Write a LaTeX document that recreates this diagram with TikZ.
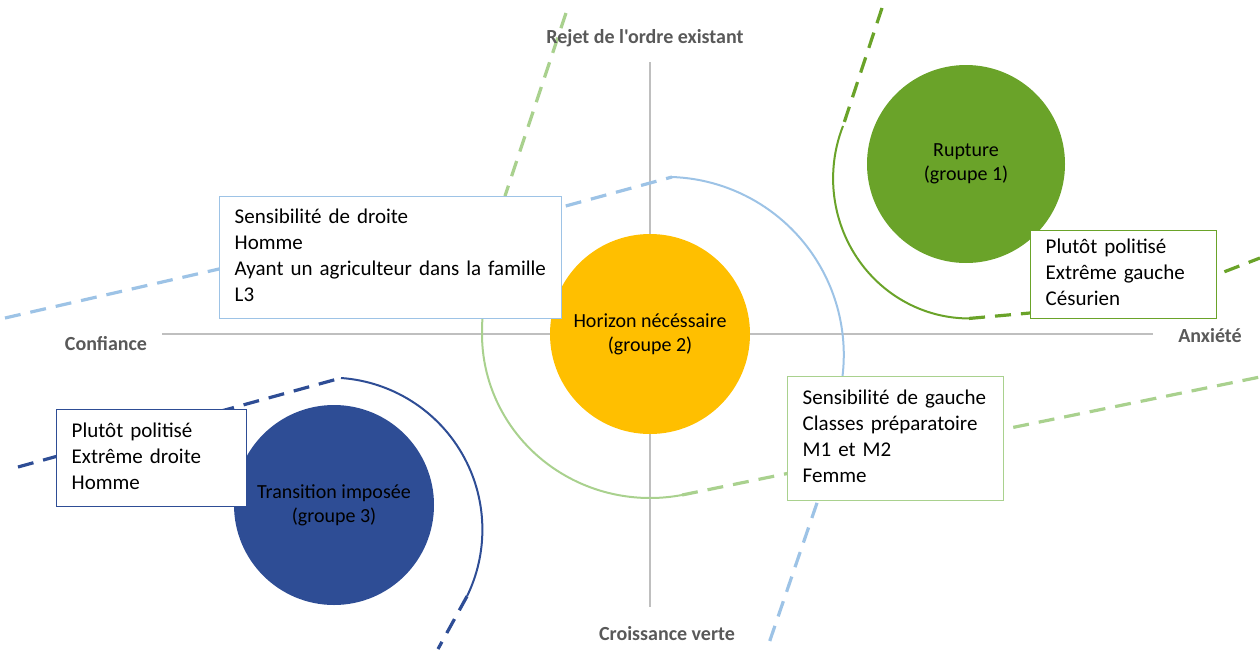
\documentclass[tikz,border=0pt]{standalone}
\usepackage{fontspec}
\setmainfont{Carlito}[Ligatures=TeXOff]
\usepackage{tikz}
\definecolor{axisgray}{HTML}{BFBFBF}
\definecolor{labelgray}{HTML}{595959}
\definecolor{rupturegreen}{HTML}{6AA329}
\definecolor{horizonorange}{HTML}{FFBF00}
\definecolor{transitionblue}{HTML}{2E4D95}
\definecolor{lightgreen}{HTML}{A9D18E}
\definecolor{lightblue}{HTML}{9DC3E6}
\newcommand{\boxfont}{\fontsize{10.5}{13}\selectfont}
\newcommand{\groupfont}{\fontsize{10}{12}\selectfont}
\newcommand{\axisfont}{\fontsize{10}{12}\selectfont\bfseries}
\newcommand{\boxlines}[1]{\begin{tabular}{@{}l@{}}#1\end{tabular}}

\begin{document}
\begin{tikzpicture}[x=0.5pt,y=-0.5pt,
  axis/.style={draw=axisgray, line width=0.6pt},
  axislabel/.style={font=\axisfont, text=labelgray},
  groupdot/.style={circle, inner sep=0pt, minimum size=#1, align=center, font=\groupfont},
  infobox/.style={draw=#1, fill=white, line width=0.7pt, anchor=north west, align=left, inner xsep=7.5pt, inner ysep=0pt, font=\boxfont},
  frontier/.style={line width=1pt},
  dashfrontier/.style={line width=1.6pt, dash pattern=on 8pt off 5pt}]
  \useasboundingbox (0,0) rectangle (1260,649);

  \draw[axis] (650,62) -- (650,607);
  \draw[axis] (162,334) -- (1153,334);

  \draw[lightgreen, dashfrontier] (566,13) -- (505,196);
  \draw[lightgreen, frontier] (505,196) .. controls (490,250) and (482,295) .. (482,334) arc[start angle=180, end angle=79, x radius=168, y radius=164] coordinate (g2end);
  \draw[lightgreen, dashfrontier] (g2end) -- (1260,377);

  \draw[lightblue, dashfrontier] (5,318) -- (219,269) -- (562,207) -- (672,177);
  \draw[lightblue, frontier] (672,177) arc[start angle=-88, end angle=15, radius=178] coordinate (b2end);
  \draw[lightblue, dashfrontier] (b2end) -- (818,500) -- (767,649);

  \draw[rupturegreen, dashfrontier] (882,8) -- (843,126);
  \draw[rupturegreen, frontier] (843,126) arc[start angle=202, end angle=90, x radius=136, y radius=140] coordinate (g1end);
  \draw[rupturegreen, dashfrontier] (g1end) -- (1030,313) -- (1216,275) -- (1260,258);

  \draw[transitionblue, dashfrontier] (18,467) -- (341,378);
  \draw[transitionblue, frontier] (341,378) arc[start angle=-86, end angle=26, radius=152] coordinate (b3end);
  \draw[transitionblue, dashfrontier] (b3end) -- (438,649);

  \node[groupdot=99pt, fill=rupturegreen] (rupture) at (966,164) {Rupture\\(groupe 1)};
  \node[groupdot=100pt, fill=horizonorange] (horizon) at (650,334) {Horizon nécéssaire\\(groupe 2)};
  \node[groupdot=100pt, fill=transitionblue] (transition) at (334,505) {Transition imposée\\(groupe 3)};

  \node[infobox=lightblue, text width=156pt, minimum height=61pt] (droite) at (219,196) {\boxlines{Sensibilité de droite\\Homme\\Ayant un agriculteur dans la famille\\L3}};
  \node[infobox=lightgreen, text width=93pt, minimum height=62pt] (gauche) at (787,376) {\boxlines{Sensibilité de gauche\\Classes préparatoire\\M1 et M2\\Femme}};
  \node[infobox=transitionblue, text width=80pt, minimum height=48.5pt] (extdroite) at (56,409) {\boxlines{Plutôt politisé\\Extrême droite\\Homme}};
  \node[infobox=rupturegreen, text width=78pt, minimum height=44pt] (extgauche) at (1030,230) {\boxlines{Plutôt politisé\\Extrême gauche\\Césurien}};

  \node[axislabel] (rejet) at (645,38) {Rejet de l'ordre existant};
  \node[axislabel] (croissance) at (667,634) {Croissance verte};
  \node[axislabel] (confiance) at (106,344) {Confiance};
  \node[axislabel] (anxiete) at (1210,336) {Anxiété};
\end{tikzpicture}
\end{document}
